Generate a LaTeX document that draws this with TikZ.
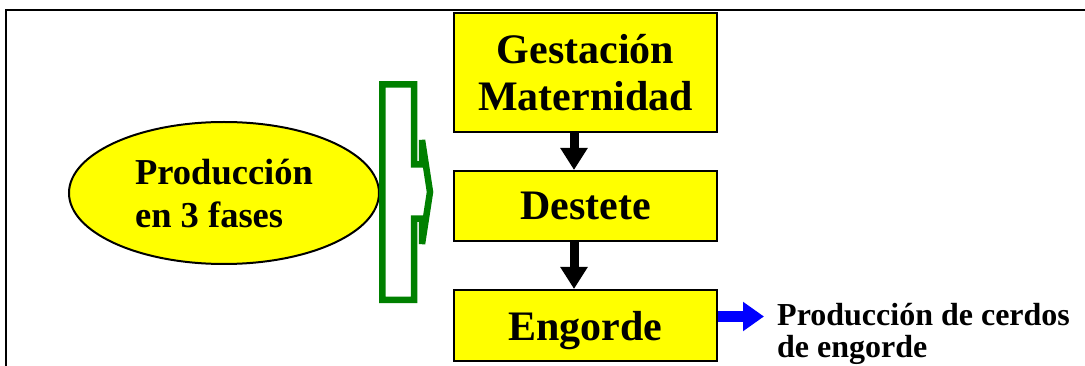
\documentclass[tikz,border=0pt]{standalone}
\usepackage{fontspec}
\setmainfont{Liberation Serif}
\usetikzlibrary{arrows.meta,shapes.geometric}
\definecolor{yel}{RGB}{255,255,0}
\definecolor{grn}{RGB}{0,128,0}
\definecolor{blu}{RGB}{0,0,255}
\tikzset{
  ybox/.style={draw=black,line width=2pt,fill=yel,minimum width=263pt,inner sep=0pt,
    font=\bfseries\fontsize{42}{47}\selectfont,align=center},
  blackarrow/.style={line width=9pt,draw=black,-{Triangle[width=26pt,length=22pt]}},
  bluearrow/.style={line width=10pt,draw=blu,-{Triangle[width=28pt,length=21pt]}},
  frameline/.style={line width=2pt,draw=black},
  greenshape/.style={line width=6.5pt,draw=grn,fill=white,line join=miter,miter limit=2}
}
\begin{document}
\begin{tikzpicture}[x=1pt,y=-1pt]
\useasboundingbox (0,0) rectangle (1085,366);
\fill[white] (0,0) rectangle (1085,366);
\draw[frameline] (1090,10) -- (6,10) -- (6,370);
% ellipse
\node[ellipse,draw=black,line width=2pt,fill=yel,minimum width=310pt,minimum height=142pt,
  inner sep=0pt,align=left,font=\bfseries\fontsize{36.5}{43}\selectfont] (ell) at (224,193)
  {Producción\\en 3 fases};
% green bracket
\draw[greenshape] (382.3,84.3) -- (414,84.3) -- (414,164.5) -- (422,164.5) -- (422,140)
  -- (430,192) -- (422,244) -- (422,218.7) -- (414,218.7) -- (414,300) -- (382.3,300) -- cycle;
% boxes
\node[ybox,minimum height=119pt] (b1) at (585.5,72.5) {Gestación\\Maternidad};
\node[ybox,minimum height=70pt,text height=28pt,text depth=0pt] (b2) at (585.5,206) {Destete};
\node[ybox,minimum height=71pt,text height=29pt,text depth=0pt] (b3) at (585.5,325.5) {Engorde};
% arrows
\draw[blackarrow] ([xshift=-11.5pt]b1.south) -- ([xshift=-11.5pt]b2.north);
\draw[blackarrow] ([xshift=-11.5pt]b2.south) -- ([xshift=-11.5pt]b3.north);
\coordinate (tip) at (764,316.5);
\draw[bluearrow] ([yshift=9pt]b3.east) -- (tip);
\node[anchor=base west,align=left,inner sep=0pt,font=\bfseries\fontsize{32}{32}\selectfont] (out) at (777,357)
  {Producción de cerdos\\de engorde};
\end{tikzpicture}
\end{document}
